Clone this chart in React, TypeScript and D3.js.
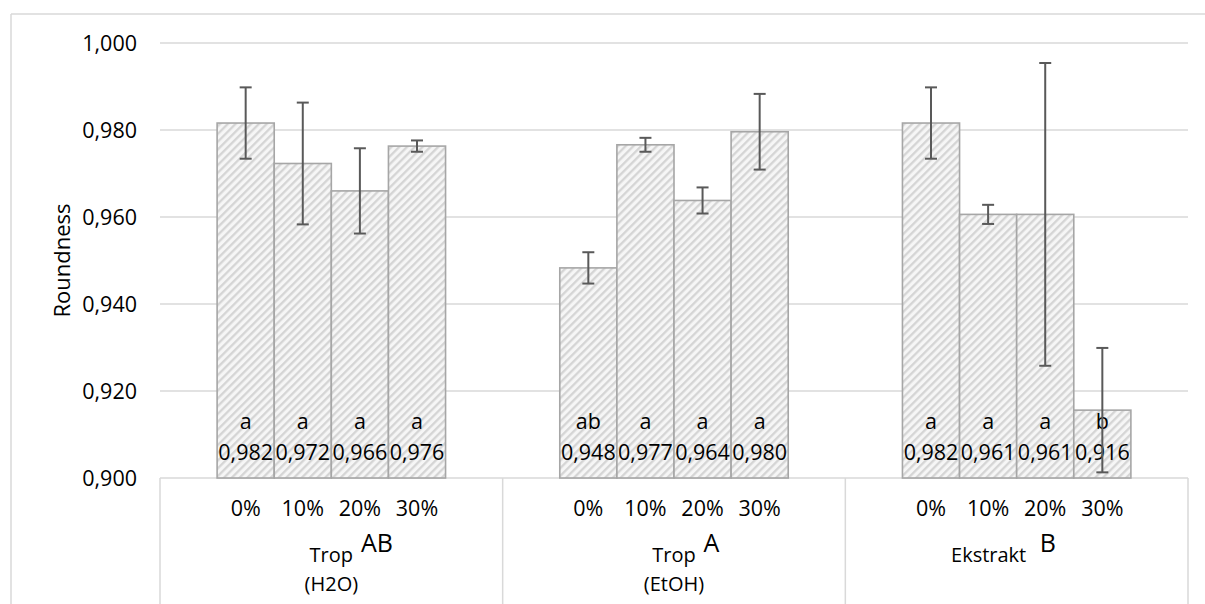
import * as d3 from 'd3'

// roundness per group (0%, 10%, 20%, 30%)
const groupNames = ['Trop', 'Trop', 'Ekstrakt']
const groupLetters = ['AB', 'A', 'B']
const groupSubs = ['(H2O)', '(EtOH)', '']
const doses = ['0%', '10%', '20%', '30%']
const means = [
  [0.9816, 0.9723, 0.966, 0.9763],
  [0.9483, 0.9766, 0.9638, 0.9796],
  [0.9816, 0.9606, 0.9606, 0.9156],
]
const errors = [
  [0.0082, 0.014, 0.0098, 0.0013],
  [0.0036, 0.0016, 0.003, 0.0087],
  [0.0082, 0.0022, 0.0348, 0.0143],
]
const letters = [
  ['a', 'a', 'a', 'a'],
  ['ab', 'a', 'a', 'a'],
  ['a', 'a', 'a', 'b'],
]
const yTicks = [0.9, 0.92, 0.94, 0.96, 0.98, 1.0]

const W = 1205
const H = 604
const FONT = '"Open Sans", sans-serif'
const GRID = '#d9d9d9'
const NUM = 21.5 // digits are wider in the original font

const fmt = (v: number) => d3.format('.3f')(v).replace('.', ',')

export default function App() {
  const left = 160
  const right = 1188
  const top = 43
  const bottom = 478

  const y = d3.scaleLinear().domain([0.9, 1.0]).range([bottom, top])
  const gx = d3.scaleBand<number>().domain(d3.range(groupNames.length)).range([left, right]).padding(0)
  const bx = d3.scaleBand<string>().domain(doses).range([0, gx.bandwidth()]).paddingInner(0).paddingOuter(1)

  // third label sits a bit to the left in the original
  const labelShift = [0, 0, -28]

  return (
    <svg width={W} height={H} style={{ position: 'absolute', left: 0, top: 0, background: '#fff' }} fontFamily={FONT}>
      <defs>
        <pattern id="hatch" patternUnits="userSpaceOnUse" width={5.5} height={5.5} patternTransform="rotate(45)">
          <rect width={5.5} height={5.5} fill="#f6f6f6" />
          <line x1={1.2} y1={0} x2={1.2} y2={5.5} stroke="#d3d3d3" strokeWidth={2.2} />
        </pattern>
      </defs>

      {/* chart border */}
      <line x1={11} x2={W} y1={14} y2={14} stroke={GRID} strokeWidth={1.5} />
      <line x1={11} x2={11} y1={14} y2={H} stroke={GRID} strokeWidth={1.5} />

      {/* gridlines + y ticks */}
      {yTicks.map(t => (
        <g key={t}>
          <line x1={left} x2={right} y1={y(t)} y2={y(t)} stroke={GRID} strokeWidth={1.5} />
          <text x={137} y={y(t)} dy="0.35em" textAnchor="end" fontSize={NUM} fill="#000">{fmt(t)}</text>
        </g>
      ))}

      <text transform={`translate(70,${(top + bottom) / 2}) rotate(-90)`} textAnchor="middle" fontSize={22} fill="#000">Roundness</text>

      {/* category table lines */}
      {d3.range(groupNames.length + 1).map(i => {
        const x = i < groupNames.length ? gx(i)! : right
        return <line key={i} x1={x} x2={x} y1={bottom} y2={H} stroke={GRID} strokeWidth={1.5} />
      })}

      {groupNames.map((name, gi) => {
        const g0 = gx(gi)!
        const cx = g0 + gx.bandwidth() / 2 + labelShift[gi]
        return (
          <g key={gi}>
            {doses.map((d, di) => {
              const v = means[gi][di]
              const e = errors[gi][di]
              const x0 = g0 + bx(d)!
              const xc = x0 + bx.bandwidth() / 2
              return (
                <g key={d}>
                  <rect x={x0} y={y(v)} width={bx.bandwidth()} height={y(0.9) - y(v)} fill="url(#hatch)" stroke="#a6a6a6" strokeWidth={1.6} />
                  <text x={xc} y={429} textAnchor="middle" fontSize={NUM} fill="#000">{letters[gi][di]}</text>
                  <text x={xc} y={460} textAnchor="middle" fontSize={NUM} fill="#000">{fmt(v)}</text>
                  <g stroke="#595959" strokeWidth={2}>
                    <line x1={xc} x2={xc} y1={y(v + e)} y2={y(v - e)} />
                    <line x1={xc - 6} x2={xc + 6} y1={y(v + e)} y2={y(v + e)} />
                    <line x1={xc - 6} x2={xc + 6} y1={y(v - e)} y2={y(v - e)} />
                  </g>
                  <text x={xc} y={516} textAnchor="middle" fontSize={NUM} fill="#000">{d}</text>
                </g>
              )
            })}
            <text x={cx} y={562} textAnchor="middle" fontSize={20} fill="#000">{name}</text>
            <text x={cx + (name.length * 5.4) + 8} y={552} fontSize={25} fill="#000">{groupLetters[gi]}</text>
            <text x={cx} y={591} textAnchor="middle" fontSize={20} fill="#000">{groupSubs[gi]}</text>
          </g>
        )
      })}
    </svg>
  )
}
